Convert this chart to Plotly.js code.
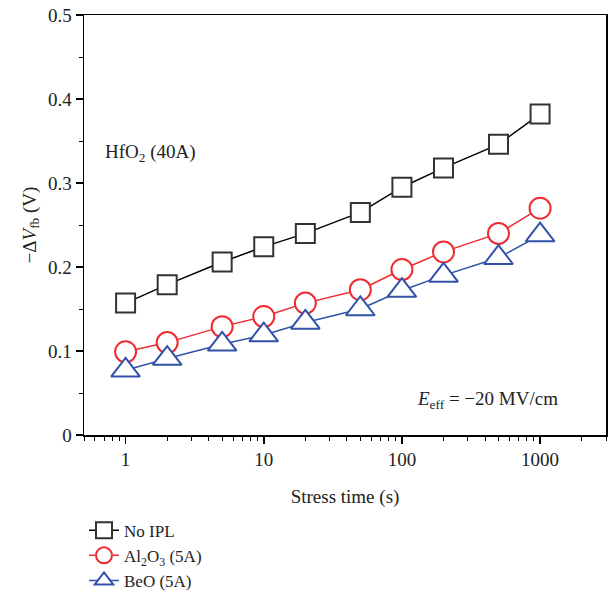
<!DOCTYPE html>
<html>
<head>
<meta charset="utf-8">
<script src="https://cdn.plot.ly/plotly-3.0.1.min.js"></script>
<style>html,body{margin:0;padding:0;background:#fff;}#chart{width:608px;height:594px;}</style>
</head>
<body>
<div id="chart"></div>
<script>
var stressTime = [1, 2, 5, 10, 20, 50, 100, 200, 500, 1000];
var noIPL = [0.157, 0.179, 0.206, 0.224, 0.240, 0.265, 0.295, 0.318, 0.346, 0.382];
var al2o3 = [0.099, 0.110, 0.129, 0.141, 0.157, 0.173, 0.197, 0.218, 0.240, 0.270];
var beo   = [0.077, 0.091, 0.108, 0.119, 0.134, 0.150, 0.172, 0.190, 0.211, 0.238];
var seriesNames = ['No IPL', 'Al<sub>2</sub>O<sub>3</sub> (5A)', 'BeO (5A)'];
var xTickVals = [1, 10, 100, 1000];
var xTickText = ['1', '10', '100', '1000'];

var FONT = 'Liberation Serif, DejaVu Serif, serif';
var FS = 19;

var traces = [
  {x: stressTime, y: noIPL, name: seriesNames[0], mode: 'lines+markers',
   line: {color: '#000000', width: 1.5},
   marker: {symbol: 'square', size: 19, color: '#ffffff', line: {width: 2, color: '#333333'}}},
  {x: stressTime, y: al2o3, name: seriesNames[1], mode: 'lines+markers',
   line: {color: '#ee2b2f', width: 1.5},
   marker: {symbol: 'circle', size: 21, color: '#ffffff', line: {width: 2, color: '#ee2b2f'}}},
  {x: stressTime, y: beo, name: seriesNames[2], mode: 'lines+markers',
   line: {color: '#3152a8', width: 1.5},
   marker: {symbol: 'triangle-up', size: 25, color: '#ffffff', line: {width: 2, color: '#3152a8'}}}
];

var layout = {
  width: 608, height: 594,
  margin: {l: 84, r: 2, t: 15, b: 159, autoexpand: false},
  paper_bgcolor: '#ffffff', plot_bgcolor: '#ffffff',
  font: {family: FONT, size: FS, color: '#222222'},
  showlegend: true,
  legend: {x: 0.0, y: -0.185, xanchor: 'left', yanchor: 'top',
           font: {family: FONT, size: 17, color: '#222222'},
           tracegroupgap: 0, itemwidth: 30, bgcolor: 'rgba(0,0,0,0)'},
  xaxis: {
    type: 'log', range: [Math.log10(0.5), Math.log10(3000)],
    tickvals: xTickVals, ticktext: xTickText, automargin: false,
    ticks: 'outside', ticklen: 7, tickwidth: 1.5, tickcolor: '#000',
    minor: {ticks: 'outside', ticklen: 4, tickwidth: 1, tickcolor: '#000', dtick: 'D1'},
    showline: true, linecolor: '#000', linewidth: 1.5, mirror: true,
    showgrid: false, zeroline: false,
    tickfont: {family: FONT, size: FS, color: '#222'},
    title: {text: 'Stress time (s)', font: {family: FONT, size: FS, color: '#222'}}
  },
  yaxis: {
    range: [0, 0.5], dtick: 0.1, tick0: 0, automargin: false,
    ticks: 'outside', ticklen: 7, tickwidth: 1.5, tickcolor: '#000',
    minor: {ticks: 'outside', ticklen: 4, tickwidth: 1, tickcolor: '#000', dtick: 0.05},
    showline: true, linecolor: '#000', linewidth: 1.5, mirror: true,
    showgrid: false, zeroline: false,
    tickfont: {family: FONT, size: FS, color: '#222'},
    title: {text: '\u2212\u0394<i>V</i><sub>fb</sub> (V)', font: {family: FONT, size: FS, color: '#222'}}
  },
  annotations: [
    {xref: 'paper', yref: 'paper', x: 0.036, y: 0.671, xanchor: 'left', yanchor: 'middle',
     text: 'HfO<sub>2</sub> (40A)', showarrow: false, font: {family: FONT, size: FS, color: '#222'}},
    {xref: 'paper', yref: 'paper', x: 0.912, y: 0.083, xanchor: 'right', yanchor: 'middle',
     text: '<i>E</i><sub>eff</sub> = \u221220 MV/cm', showarrow: false, font: {family: FONT, size: FS, color: '#222'}}
  ]
};

Plotly.newPlot('chart', traces, layout, {displayModeBar: false, staticPlot: true});
</script>
</body>
</html>
